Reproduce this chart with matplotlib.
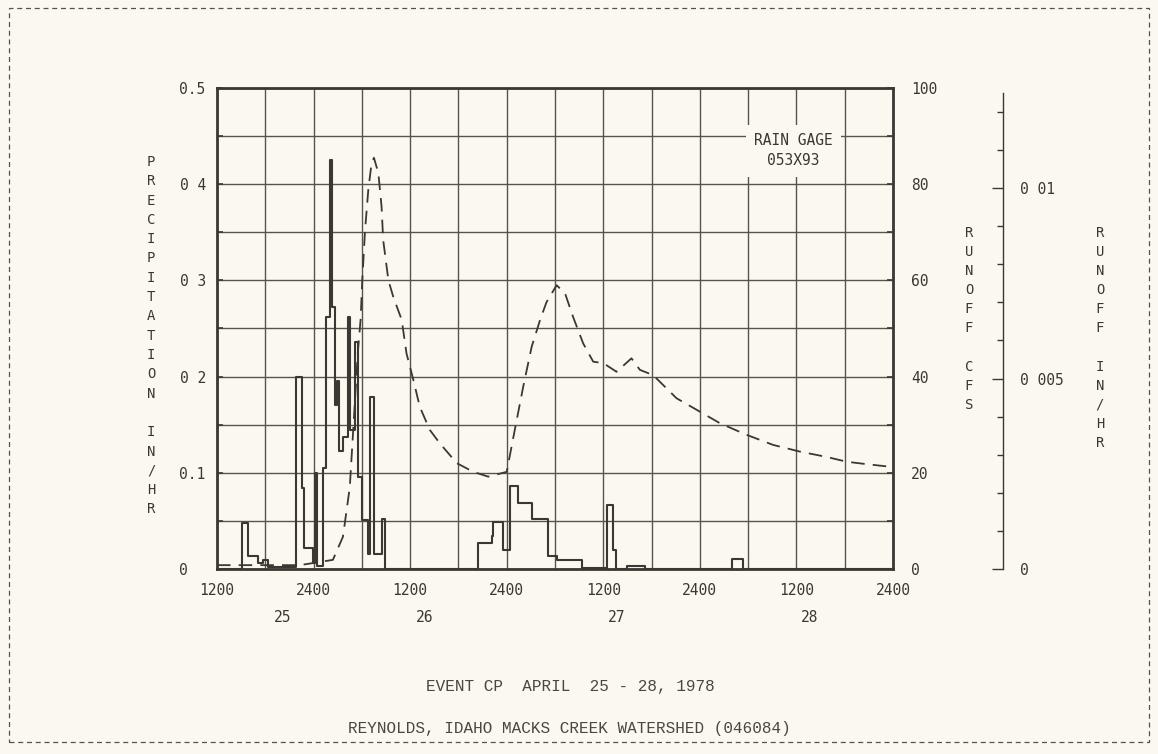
import matplotlib
matplotlib.use("Agg")
import matplotlib.pyplot as plt
import matplotlib.ticker as mticker
import matplotlib.transforms as mtrans
from matplotlib.patches import Rectangle

# ---------------- data (hours from April 25 00:00) ----------------
precip_t = [12.0, 15.1, 15.85, 17.1, 17.7, 18.35, 21.8, 22.55, 22.75, 23.9, 24.2, 24.4,
            25.15, 25.55, 26.05, 26.3, 26.65, 26.9, 27.1, 27.7, 28.25, 28.5, 29.15, 29.5,
            30.05, 30.8, 31.0, 31.55, 32.45, 32.85, 44.4, 46.15, 46.35, 47.55, 48.4, 49.35,
            51.2, 53.15, 54.2, 57.3, 60.4, 61.15, 61.6, 63.0, 65.2, 76.0, 77.4, 96.0]
precip_v = [0.0, 0.048, 0.0135, 0.006, 0.009, 0.002, 0.200, 0.084, 0.022, 0.006, 0.100, 0.003,
            0.105, 0.262, 0.425, 0.272, 0.170, 0.195, 0.123, 0.137, 0.262, 0.144, 0.236, 0.096,
            0.051, 0.016, 0.179, 0.016, 0.052, 0.0, 0.027, 0.034, 0.049, 0.020, 0.086, 0.069,
            0.052, 0.014, 0.009, 0.001, 0.067, 0.020, 0.0, 0.003, 0.0, 0.010, 0.0, 0.0]

runoff_t = [12.0, 22.3, 26.4, 27.65, 28.5, 29.0, 29.5, 29.85, 30.05, 30.4, 30.8, 31.2, 31.5,
            32.05, 32.45, 32.65, 33.3, 33.9, 34.95, 35.55, 36.4, 37.2, 38.45, 39.7, 41.8,
            43.85, 45.7, 48.0, 49.0, 50.05, 51.1, 52.15, 52.95, 54.2, 55.25, 56.25, 57.5,
            58.75, 60.0, 61.65, 63.5, 64.55, 66.2, 67.65, 69.1, 71.6, 74.5, 77.8, 81.1,
            84.45, 87.75, 90.25, 92.7, 95.4]
runoff_cfs = [0.8, 0.8, 1.9, 6.7, 17.0, 31.0, 45.0, 52.0, 60.0, 70.5, 78.8, 84.3, 85.5,
              82.3, 75.3, 68.4, 60.0, 56.6, 51.8, 44.8, 39.3, 33.7, 28.9, 26.1, 22.0,
              20.2, 19.2, 20.2, 28.9, 37.9, 46.2, 51.8, 55.5, 59.0, 57.3, 52.4, 46.9,
              43.1, 42.8, 41.0, 43.8, 41.4, 40.3, 37.9, 35.5, 33.1, 30.3, 27.9, 25.8,
              24.4, 23.3, 22.3, 21.8, 21.3]

x_ticks = [12, 24, 36, 48, 60, 72, 84, 96]
x_ticklabels = ["1200", "2400", "1200", "2400", "1200", "2400", "1200", "2400"]
day_labels = ["25", "26", "27", "28"]
day_pos = [20.1, 37.85, 61.7, 85.7]

p_ticks = [0, 0.1, 0.2, 0.3, 0.4, 0.5]
p_ticklabels = ["0", "0.1", "0 2", "0 3", "0 4", "0.5"]
q_ticks = [0, 20, 40, 60, 80, 100]
q_ticklabels = ["0", "20", "40", "60", "80", "100"]
r_ticks = [0, 0.005, 0.01]
r_ticklabels = ["0", "0 005", "0 01"]

title1 = "EVENT CP  APRIL  25 - 28, 1978"
title2 = "REYNOLDS, IDAHO MACKS CREEK WATERSHED (046084)"
gage_text = "RAIN GAGE\n053X93"

# ---------------- style ----------------
BG = "#fbf9ef"
INK = "#3b3733"
GRID = "#57534d"
TICKFONT = "DejaVu Sans Mono"

W, H = 1158, 754
fig = plt.figure(figsize=(W / 100, H / 100), dpi=100, facecolor=BG)

def fx(px):
    return px / W

def fy(py):
    return 1 - py / H

ax_l, ax_r, ax_t, ax_b = 217, 893, 88, 569
ax = fig.add_axes([fx(ax_l), fy(ax_b), fx(ax_r - ax_l), (ax_b - ax_t) / H])
ax.set_facecolor(BG)
ax.set_xlim(12, 96)
ax.set_ylim(0, 0.5)

ax.xaxis.set_major_locator(mticker.FixedLocator(x_ticks))
ax.xaxis.set_minor_locator(mticker.MultipleLocator(6))
ax.set_xticklabels(x_ticklabels, fontfamily=TICKFONT, fontsize=10.5, color=INK)
ax.yaxis.set_major_locator(mticker.FixedLocator(p_ticks))
ax.yaxis.set_minor_locator(mticker.MultipleLocator(0.05))
ax.set_yticklabels(p_ticklabels, fontfamily=TICKFONT, fontsize=10.5, color=INK)
for lab in ax.get_yticklabels():
    lab.set_horizontalalignment("left")
ax.tick_params(axis="x", which="both", length=0, pad=10)
ax.tick_params(axis="y", which="both", direction="in", length=4, width=1.2,
               color=INK, pad=27)
ax.grid(True, which="both", color=GRID, linewidth=1.0)
ax.set_axisbelow(True)
for s in ax.spines.values():
    s.set_color(INK)
    s.set_linewidth(2.0)

# hyetograph
ax.step(precip_t, precip_v, where="post", color=INK, linewidth=1.5, zorder=3)

# runoff (cfs)
ax2 = ax.twinx()
ax2.set_ylim(0, 100)
ax2.yaxis.set_major_locator(mticker.FixedLocator(q_ticks))
ax2.yaxis.set_minor_locator(mticker.MultipleLocator(10))
ax2.set_yticklabels(q_ticklabels, fontfamily=TICKFONT, fontsize=10.5, color=INK)
ax2.tick_params(axis="y", which="both", direction="in", length=4, width=1.2,
                color=INK, pad=13)
for s in ax2.spines.values():
    s.set_visible(False)
ax2.plot(runoff_t, runoff_cfs, color=INK, linewidth=1.3, dashes=(7.5, 4.5), zorder=3)

# x day labels
trans = mtrans.blended_transform_factory(ax.transData, ax.transAxes)
for d, xp in zip(day_labels, day_pos):
    ax.text(xp, -0.101, d, transform=trans, ha="center", va="center",
            fontfamily=TICKFONT, fontsize=10.5, color=INK)

# rain gage note
ax.text(0.853, 0.87, gage_text, transform=ax.transAxes, ha="center", va="center",
        fontfamily=TICKFONT, fontsize=10.5, color=INK, linespacing=1.45,
        bbox=dict(facecolor=BG, edgecolor="none", pad=6), zorder=5)

# third axis: runoff in/hr
ax3 = fig.add_axes([fx(1003) - 0.01, fy(ax_b), 0.01, (ax_b - ax_t) / H])
ax3.set_facecolor("none")
ax3.set_ylim(0, 0.012625)
ax3.set_xticks([])
for k in ["left", "top", "bottom"]:
    ax3.spines[k].set_visible(False)
ax3.spines["right"].set_color(INK)
ax3.spines["right"].set_linewidth(1.0)
ax3.spines["right"].set_bounds(0, 0.0125)
ax3.yaxis.tick_right()
ax3.yaxis.set_major_locator(mticker.FixedLocator(r_ticks))
ax3.yaxis.set_minor_locator(mticker.MultipleLocator(0.001))
ax3.set_yticklabels(r_ticklabels, fontfamily=TICKFONT, fontsize=10.5, color=INK)
ax3.tick_params(axis="y", which="major", direction="in", length=8, width=1.0,
                color=INK, pad=12)
ax3.tick_params(axis="y", which="minor", direction="in", length=4.5, width=1.0,
                color=INK)

# stacked axis titles
def stacked(text, x_px, y0_px, step_px):
    for i, ch in enumerate(text):
        if ch == " ":
            continue
        fig.text(fx(x_px), fy(y0_px + i * step_px), ch, ha="center", va="center",
                 fontfamily=TICKFONT, fontsize=10, color=INK)

stacked("PRECIPITATION IN/HR", 151, 162, 19.3)
stacked("RUNOFF CFS", 969, 233, 19.1)
stacked("RUNOFF IN/HR", 1100, 233, 19.1)

# bottom titles
fig.text(fx(570), fy(687), title1, ha="center", va="center",
         fontfamily="Liberation Mono", fontsize=11.5, color="#4a4642")
fig.text(fx(569), fy(729), title2, ha="center", va="center",
         fontfamily="Liberation Mono", fontsize=11.5, color="#4a4642")

# dashed page border
fig.patches.append(Rectangle((fx(9), fy(742)), fx(1140), 734 / H, transform=fig.transFigure,
                             fill=False, edgecolor="#55524d", linewidth=0.9,
                             linestyle=(0, (4, 3))))

fig.savefig("out.png", dpi=100, facecolor=BG)
